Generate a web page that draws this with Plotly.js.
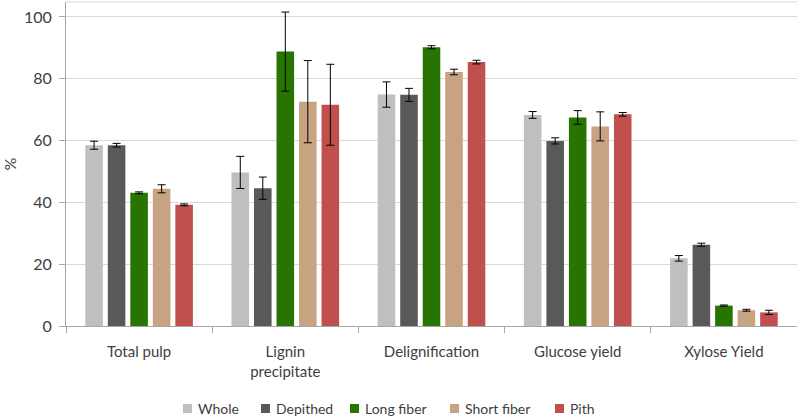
<!DOCTYPE html>
<html>
<head>
<meta charset="utf-8">
<script src="https://cdn.plot.ly/plotly-3.0.1.min.js"></script>
<style>html,body{margin:0;padding:0;background:#fff;}#chart{width:797px;height:419px;}</style>
</head>
<body>
<div id="chart"></div>
<script>
const categories = ["Total pulp", "Lignin<br>precipitate", "Delignification", "Glucose yield", "Xylose Yield"];
const seriesNames = ["Whole", "Depithed", "Long fiber", "Short fiber", "Pith"];
const whole      = [58.5, 49.7, 74.9, 68.3, 21.9];
const wholeErr   = [1.3, 5.2, 4.1, 1.1, 0.9];
const depithed   = [58.5, 44.6, 74.8, 59.9, 26.3];
const depithedErr= [0.6, 3.6, 2.1, 1.0, 0.5];
const longFiber  = [43.1, 88.8, 90.2, 67.5, 6.6];
const longErr    = [0.3, 12.8, 0.5, 2.2, 0.2];
const shortFiber = [44.4, 72.6, 82.2, 64.6, 5.1];
const shortErr   = [1.3, 13.3, 0.9, 4.7, 0.3];
const pith       = [39.2, 71.6, 85.4, 68.5, 4.4];
const pithErr    = [0.3, 13.1, 0.6, 0.6, 0.7];
const yTicks = [0, 20, 40, 60, 80, 100];

const colors = ["#BFBFBF", "#595959", "#277400", "#C8A382", "#C0504D"];
const values = [whole, depithed, longFiber, shortFiber, pith];
const errs = [wholeErr, depithedErr, longErr, shortErr, pithErr];

const fontFam = "Lato, 'Open Sans', sans-serif";
const traces = seriesNames.map((n, i) => ({
  type: "bar",
  name: n,
  x: categories,
  y: values[i],
  marker: {color: colors[i]},
  error_y: {type: "data", array: errs[i], visible: true, color: "#000000", thickness: 1, width: 4},
  hoverinfo: "none",
  showlegend: false
}));

// manual legend (positions in pixels converted to paper coords)
const L = 66, W = 731, B = 326, H = 324;
const legendSquareX = [183, 261, 350, 450, 555];
const shapes = [
  {type: "line", xref: "paper", yref: "paper", x0: 0, x1: 1, y0: 1, y1: 1, line: {color: "#D9D9D9", width: 1}}
];
const annotations = [];
seriesNames.forEach((n, i) => {
  const px = legendSquareX[i];
  shapes.push({type: "rect", xref: "paper", yref: "paper",
    x0: (px - L) / W, x1: (px + 9 - L) / W,
    y0: (B - 404) / H, y1: (B - 413) / H,
    fillcolor: colors[i], line: {width: 0}});
  annotations.push({xref: "paper", yref: "paper", x: (px + 13 - L) / W, y: (B - 408.5) / H,
    xanchor: "left", yanchor: "middle", showarrow: false, text: n,
    font: {family: fontFam, size: 14, color: "#404040"}});
});

const layout = {
  width: 797, height: 419,
  margin: {l: 66, r: 0, t: 2, b: 93, autoexpand: false},
  paper_bgcolor: "#ffffff", plot_bgcolor: "#ffffff",
  font: {family: fontFam, color: "#404040", size: 14},
  barmode: "group",
  bargap: 0.23,
  bargroupgap: 0.22,
  showlegend: false,
  xaxis: {
    type: "category", automargin: false,
    showline: true, linecolor: "#A6A6A6", linewidth: 1,
    ticks: "outside", tickson: "boundaries", ticklen: 6, tickcolor: "#A6A6A6",
    ticklabelstandoff: 12,
    tickfont: {family: fontFam, size: 15, color: "#404040"},
    showgrid: false, zeroline: false
  },
  yaxis: {
    range: [0, 104.85], automargin: false,
    tickvals: yTicks,
    ticktext: yTicks.map(String),
    showline: true, linecolor: "#A6A6A6", linewidth: 1,
    ticks: "outside", ticklen: 6, tickcolor: "#A6A6A6",
    ticklabelstandoff: 4,
    tickfont: {family: fontFam, size: 16, color: "#404040"},
    showgrid: true, gridcolor: "#D9D9D9", gridwidth: 1,
    zeroline: false,
    title: {text: "%", font: {family: fontFam, size: 16, color: "#404040"}, standoff: 22}
  },
  shapes: shapes,
  annotations: annotations
};

Plotly.newPlot("chart", traces, layout, {staticPlot: true, displayModeBar: false});
</script>
</body>
</html>
